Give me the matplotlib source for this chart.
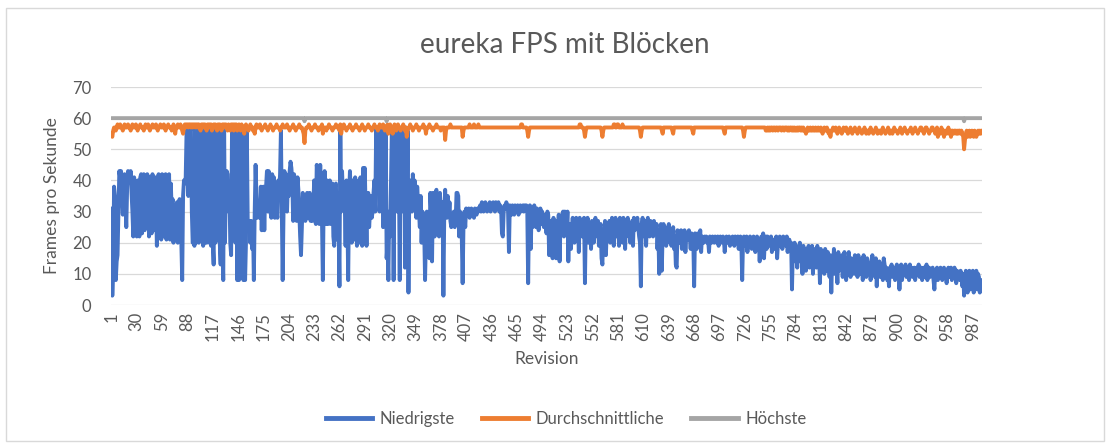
import numpy as np
import matplotlib
matplotlib.use('Agg')
import matplotlib.pyplot as plt
from matplotlib.lines import Line2D
from matplotlib.patches import Rectangle

plt.rcParams['font.family'] = ['Lato', 'DejaVu Sans']

# Werte (eine Zahl pro Revision)
niedrigste = [
    31, 3, 12, 38, 35, 8, 14, 16, 30, 43,
    41, 43, 35, 29, 40, 42, 33, 25, 38, 43,
    42, 40, 43, 36, 30, 22, 41, 23, 38, 22,
    40, 25, 22, 41, 42, 23, 40, 42, 24, 41,
    25, 42, 40, 22, 41, 38, 23, 42, 30, 24,
    41, 35, 19, 40, 42, 25, 41, 21, 42, 40,
    22, 41, 42, 21, 40, 36, 42, 21, 39, 30,
    34, 20, 32, 30, 28, 33, 20, 30, 34, 25,
    20, 8, 35, 40, 39, 41, 56, 57, 35, 57,
    56, 57, 30, 20, 21, 19, 57, 20, 56, 57,
    20, 57, 21, 57, 56, 19, 57, 20, 57, 20,
    57, 56, 20, 57, 19, 57, 20, 13, 57, 20,
    57, 56, 21, 57, 20, 13, 57, 20, 8, 57,
    20, 40, 43, 42, 30, 38, 20, 16, 56, 30,
    56, 57, 20, 56, 8, 57, 8, 56, 57, 20,
    56, 8, 30, 8, 20, 56, 27, 26, 27, 20,
    27, 18, 26, 8, 30, 45, 35, 28, 33, 30,
    28, 38, 24, 37, 38, 24, 36, 38, 43, 30,
    43, 41, 30, 28, 42, 33, 41, 28, 36, 30,
    28, 40, 36, 42, 56, 30, 8, 30, 43, 38,
    42, 30, 40, 35, 43, 46, 44, 40, 27, 42,
    40, 30, 27, 41, 37, 30, 22, 16, 25, 36,
    35, 30, 27, 34, 36, 28, 33, 36, 27, 33,
    27, 30, 40, 28, 26, 45, 42, 35, 26, 45,
    30, 27, 8, 35, 43, 30, 26, 40, 26, 33,
    40, 26, 35, 39, 22, 19, 38, 39, 21, 30,
    25, 6, 57, 30, 43, 35, 38, 34, 19, 40,
    30, 8, 35, 43, 36, 20, 40, 38, 21, 41,
    36, 19, 30, 40, 20, 41, 35, 19, 44, 20,
    44, 30, 19, 33, 36, 25, 30, 35, 28, 30,
    36, 40, 30, 57, 40, 56, 57, 30, 56, 35,
    57, 25, 56, 30, 57, 15, 20, 8, 30, 22,
    40, 57, 56, 8, 56, 35, 57, 30, 57, 45,
    8, 56, 40, 57, 30, 56, 12, 57, 20, 56,
    4, 38, 40, 36, 30, 42, 33, 40, 32, 28,
    38, 33, 30, 25, 35, 20, 30, 27, 24, 8,
    22, 30, 20, 27, 15, 36, 30, 14, 36, 30,
    22, 36, 37, 30, 26, 22, 36, 30, 28, 33,
    3, 30, 37, 30, 28, 35, 29, 33, 27, 25,
    28, 26, 30, 25, 27, 36, 36, 35, 22, 30,
    28, 22, 7, 26, 30, 25, 31, 29, 30, 31,
    28, 30, 31, 29, 30, 28, 31, 30, 29, 31,
    30, 31, 32, 30, 33, 31, 30, 32, 33, 31,
    30, 32, 31, 33, 30, 32, 31, 33, 32, 30,
    33, 31, 32, 33, 30, 32, 31, 23, 22, 30,
    32, 31, 33, 32, 30, 17, 32, 31, 29, 32,
    30, 29, 32, 31, 30, 32, 29, 31, 32, 30,
    31, 32, 30, 32, 31, 32, 30, 7, 31, 32,
    18, 31, 25, 30, 32, 29, 25, 31, 30, 24,
    28, 31, 26, 30, 27, 25, 29, 27, 23, 30,
    29, 16, 27, 25, 22, 15, 28, 21, 26, 15,
    27, 23, 29, 14, 26, 24, 29, 30, 22, 30,
    28, 24, 30, 14, 26, 22, 18, 25, 28, 24,
    20, 27, 28, 22, 26, 17, 28, 24, 27, 22,
    25, 28, 7, 26, 22, 28, 20, 26, 24, 18,
    27, 25, 20, 26, 28, 24, 22, 27, 19, 25,
    26, 15, 13, 24, 22, 27, 16, 24, 26, 22,
    27, 20, 25, 28, 24, 19, 26, 28, 22, 25,
    27, 19, 28, 24, 26, 20, 28, 25, 18, 27,
    24, 28, 22, 26, 20, 25, 27, 19, 28, 24,
    27, 26, 28, 25, 22, 20, 6, 26, 28, 24,
    22, 27, 19, 26, 28, 25, 22, 27, 24, 26,
    22, 27, 25, 24, 26, 18, 24, 10, 22, 26,
    11, 24, 26, 22, 25, 19, 24, 23, 26, 20,
    24, 19, 22, 25, 18, 22, 13, 12, 24, 22,
    20, 23, 24, 18, 23, 22, 24, 17, 22, 23,
    21, 24, 22, 18, 23, 22, 21, 6, 23, 22,
    18, 23, 21, 20, 24, 17, 22, 21, 20, 22,
    21, 22, 20, 21, 17, 22, 21, 20, 22, 21,
    20, 22, 21, 20, 22, 19, 21, 22, 20, 21,
    22, 21, 17, 21, 22, 20, 21, 22, 19, 21,
    20, 22, 21, 19, 22, 20, 21, 22, 18, 21,
    22, 20, 8, 21, 22, 19, 20, 22, 17, 21,
    20, 22, 19, 18, 21, 22, 20, 17, 21, 22,
    19, 21, 14, 20, 22, 19, 23, 15, 21, 22,
    18, 22, 20, 21, 19, 22, 17, 20, 21, 18,
    21, 22, 15, 20, 21, 22, 19, 21, 18, 22,
    20, 21, 19, 22, 17, 20, 21, 18, 20, 5,
    18, 14, 20, 16, 19, 12, 18, 14, 20, 15,
    16, 10, 19, 14, 18, 11, 17, 15, 19, 12,
    17, 13, 19, 10, 18, 15, 17, 12, 19, 14,
    16, 7, 18, 12, 17, 14, 10, 18, 15, 11,
    17, 13, 9, 16, 4, 15, 12, 18, 10, 16,
    13, 7, 17, 11, 15, 12, 16, 9, 14, 17,
    12, 8, 15, 11, 17, 13, 9, 15, 12, 14,
    10, 16, 12, 15, 9, 16, 11, 14, 10, 15,
    8, 16, 11, 13, 9, 15, 14, 10, 13, 8,
    12, 16, 10, 13, 9, 15, 6, 13, 11, 14,
    9, 13, 11, 8, 15, 13, 10, 12, 8, 11,
    6, 12, 10, 13, 9, 11, 12, 8, 11, 13,
    10, 12, 5, 11, 13, 8, 12, 10, 11, 13,
    9, 12, 11, 8, 13, 10, 12, 9, 11, 12,
    8, 11, 12, 10, 13, 9, 11, 12, 8, 10,
    12, 9, 11, 13, 8, 10, 12, 9, 11, 10,
    12, 8, 5, 11, 10, 12, 8, 11, 9, 12,
    10, 8, 11, 12, 9, 10, 7, 11, 12, 9,
    10, 12, 8, 11, 9, 12, 10, 7, 11, 9,
    10, 8, 11, 9, 6, 10, 3, 8, 11, 10,
    4, 10, 11, 5, 9, 8, 11, 4, 10, 7,
    11, 5, 10, 9, 4, 8, 8,
]

durchschnitt = [
    55, 54, 56, 57, 57, 56, 57, 58, 57, 57, 58, 57, 57, 56, 57, 58, 57, 57, 57, 58,
    57, 57, 56, 57, 58, 57, 57, 57, 58, 57, 56, 57, 57, 58, 57, 57, 57, 56, 57, 58,
    57, 57, 58, 57, 56, 57, 57, 58, 57, 57, 57, 58, 57, 56, 57, 57, 58, 57, 57, 57,
    58, 57, 56, 57, 57, 58, 57, 57, 57, 56, 57, 58, 57, 55, 57, 57, 58, 57, 57, 58,
    57, 56, 55, 57, 58, 57, 58, 58, 57, 58, 58, 57, 58, 57, 58, 58, 57, 58, 57, 58,
    58, 57, 56, 58, 57, 58, 57, 58, 57, 56, 58, 57, 58, 57, 58, 56, 57, 58, 57, 58,
    57, 56, 58, 57, 58, 57, 56, 58, 57, 58, 57, 58, 57, 56, 58, 57, 56, 58, 57, 58,
    56, 58, 57, 58, 56, 57, 58, 57, 56, 58, 57, 57, 55, 57, 58, 57, 57, 56, 57, 58,
    57, 57, 56, 57, 55, 57, 58, 57, 57, 57, 58, 57, 56, 57, 57, 57, 58, 57, 57, 56,
    57, 57, 58, 57, 57, 56, 57, 57, 57, 58, 57, 57, 57, 56, 57, 57, 58, 57, 57, 57,
    57, 58, 57, 57, 56, 57, 57, 57, 58, 57, 57, 56, 57, 57, 57, 58, 57, 57, 57, 56,
    55, 52, 56, 57, 57, 57, 58, 57, 57, 56, 57, 57, 57, 58, 57, 57, 57, 56, 57, 57,
    57, 58, 55, 57, 57, 57, 56, 57, 57, 58, 57, 57, 57, 56, 57, 57, 57, 58, 57, 57,
    57, 56, 58, 55, 57, 57, 58, 57, 57, 56, 57, 57, 57, 58, 57, 57, 56, 57, 57, 57,
    58, 57, 57, 57, 56, 57, 57, 58, 57, 57, 56, 57, 57, 57, 58, 57, 57, 57, 56, 57,
    57, 58, 57, 57, 57, 56, 57, 58, 57, 57, 57, 58, 57, 56, 57, 57, 58, 55, 56, 58,
    57, 57, 55, 56, 58, 57, 56, 57, 58, 57, 57, 56, 57, 57, 58, 57, 56, 57, 54, 56,
    57, 57, 58, 57, 57, 56, 57, 57, 57, 58, 57, 57, 56, 57, 57, 57, 57, 58, 57, 57,
    55, 57, 57, 57, 58, 57, 57, 57, 56, 57, 57, 57, 58, 57, 57, 57, 57, 56, 57, 57,
    57, 57, 53, 56, 57, 57, 57, 57, 58, 57, 57, 57, 57, 57, 57, 57, 57, 57, 57, 57,
    57, 57, 54, 56, 57, 57, 57, 57, 57, 57, 58, 57, 57, 57, 57, 58, 57, 57, 57, 57,
    58, 57, 57, 57, 57, 57, 57, 57, 57, 57, 57, 57, 57, 57, 57, 57, 57, 57, 57, 57,
    57, 57, 57, 57, 57, 57, 57, 57, 57, 57, 57, 57, 57, 57, 57, 57, 57, 57, 57, 57,
    57, 57, 57, 57, 57, 57, 57, 57, 57, 58, 58, 57, 57, 57, 57, 57, 56, 54, 56, 57,
    57, 57, 57, 57, 57, 57, 57, 57, 57, 57, 57, 57, 57, 57, 57, 57, 57, 57, 57, 57,
    57, 57, 57, 57, 57, 57, 57, 57, 57, 57, 57, 57, 57, 57, 57, 57, 57, 57, 57, 57,
    57, 57, 57, 57, 57, 57, 57, 57, 57, 57, 57, 57, 57, 57, 57, 57, 58, 58, 57, 57,
    57, 56, 54, 56, 57, 57, 57, 57, 57, 57, 57, 57, 57, 57, 57, 57, 57, 57, 57, 57,
    57, 56, 54, 56, 57, 57, 57, 57, 57, 57, 57, 57, 57, 57, 57, 58, 58, 57, 57, 58,
    58, 57, 57, 57, 57, 58, 57, 57, 57, 57, 57, 57, 57, 57, 57, 57, 57, 57, 57, 57,
    57, 57, 57, 57, 57, 56, 54, 56, 57, 57, 57, 57, 57, 57, 57, 57, 57, 57, 57, 57,
    57, 57, 57, 57, 57, 57, 57, 57, 57, 57, 56, 55, 57, 57, 57, 57, 57, 57, 57, 57,
    57, 57, 56, 55, 57, 57, 57, 57, 57, 57, 57, 57, 57, 57, 57, 57, 57, 57, 57, 57,
    57, 57, 57, 57, 57, 56, 55, 57, 57, 57, 57, 57, 57, 57, 57, 57, 57, 57, 57, 57,
    57, 57, 57, 57, 57, 57, 57, 57, 57, 57, 57, 57, 57, 57, 57, 57, 57, 57, 57, 57,
    57, 56, 55, 57, 57, 57, 57, 57, 57, 57, 57, 57, 57, 57, 57, 57, 57, 57, 57, 57,
    57, 57, 57, 56, 54, 56, 57, 57, 57, 57, 57, 57, 57, 57, 57, 57, 57, 57, 57, 57,
    57, 57, 57, 57, 57, 57, 57, 57, 57, 56, 56, 57, 56, 57, 56, 57, 57, 56, 57, 57,
    56, 57, 57, 56, 57, 57, 57, 56, 57, 57, 56, 57, 57, 57, 56, 57, 56, 57, 57, 56,
    57, 56, 57, 56, 56, 57, 56, 57, 57, 56, 57, 56, 57, 56, 56, 55, 56, 57, 56, 56,
    57, 56, 56, 57, 56, 56, 57, 56, 56, 57, 56, 56, 57, 56, 55, 56, 57, 56, 56, 57,
    56, 55, 56, 54, 56, 56, 57, 56, 56, 57, 56, 55, 56, 57, 56, 56, 55, 56, 57, 56,
    56, 57, 56, 55, 56, 56, 57, 56, 55, 56, 56, 57, 56, 56, 55, 56, 57, 56, 56, 55,
    56, 56, 57, 56, 55, 56, 56, 55, 56, 57, 56, 56, 55, 56, 56, 57, 56, 55, 56, 56,
    56, 55, 56, 57, 56, 56, 55, 56, 56, 57, 56, 55, 56, 56, 55, 56, 57, 56, 56, 56,
    55, 56, 56, 57, 56, 55, 56, 56, 57, 56, 56, 55, 56, 56, 56, 57, 56, 55, 56, 56,
    57, 56, 56, 55, 56, 56, 57, 57, 56, 56, 55, 56, 57, 57, 56, 56, 55, 56, 56, 57,
    57, 56, 56, 55, 56, 57, 54, 56, 56, 55, 57, 56, 56, 54, 56, 56, 55, 56, 57, 55,
    56, 54, 56, 56, 55, 56, 56, 55, 56, 55, 56, 56, 55, 56, 55, 54, 50, 53, 55, 56,
    54, 55, 56, 54, 55, 56, 55, 54, 56, 55, 54, 55, 56, 55, 56, 55, 56,
]

# fast immer 60, drei kleine Einbrüche auf 59 (Revision 222, 316, 977)
hoechste = [60] * 221 + [59] + [60] * 93 + [59] + [60] * 660 + [59] + [60] * 20

serien = ['Niedrigste', 'Durchschnittliche', 'Höchste']
farben = ['#4472C4', '#ED7D31', '#A5A5A5']
tick_revs = list(range(1, 988, 29))

txt = '#595959'

fig = plt.figure(figsize=(11.12, 4.45), dpi=100)
fig.patches.append(Rectangle((6 / 1112, 4 / 445), 1098 / 1112, 433 / 445,
                             transform=fig.transFigure, fill=False,
                             edgecolor='#d9d9d9', lw=1))

ax = fig.add_axes([111 / 1112, 1 - 305 / 445, 871 / 1112, 218 / 445])

for werte, name, farbe in zip([niedrigste, durchschnitt, hoechste], serien, farben):
    x = np.arange(1, len(werte) + 1)
    ax.plot(x, werte, color=farbe, lw=2.8, label=name,
            solid_joinstyle='round', solid_capstyle='round')

n = len(niedrigste)
ax.set_xlim(0.5, n + 0.5)
ax.set_ylim(0, 70)
ax.set_yticks(range(0, 71, 10))
ax.set_xticks(tick_revs)
ax.set_xticklabels([str(t) for t in tick_revs], rotation=90)
ax.grid(axis='y', color='#d9d9d9', lw=0.9)
ax.set_axisbelow(True)
for s in ax.spines.values():
    s.set_visible(False)
ax.tick_params(axis='both', length=0, colors=txt, labelsize=12)
ax.tick_params(axis='y', pad=14)
ax.tick_params(axis='x', pad=5)

ax.set_xlabel('Revision', color=txt, fontsize=12.5, labelpad=7)
ax.set_ylabel('Frames pro Sekunde', color=txt, fontsize=12.5, labelpad=9)

fig.text(565 / 1112, 1 - 45 / 445, 'eureka FPS mit Blöcken', ha='center', va='center',
         color=txt, fontsize=20)

handles = [Line2D([0], [0], color=f, lw=3.5) for f in farben]
fig.legend(handles, serien, loc='center', bbox_to_anchor=(566 / 1112, 1 - 419 / 445),
           ncol=3, frameon=False, fontsize=12, labelcolor=txt,
           handlelength=2.8, handletextpad=0.45, columnspacing=1.6)

fig.savefig('out.png', dpi=100)
